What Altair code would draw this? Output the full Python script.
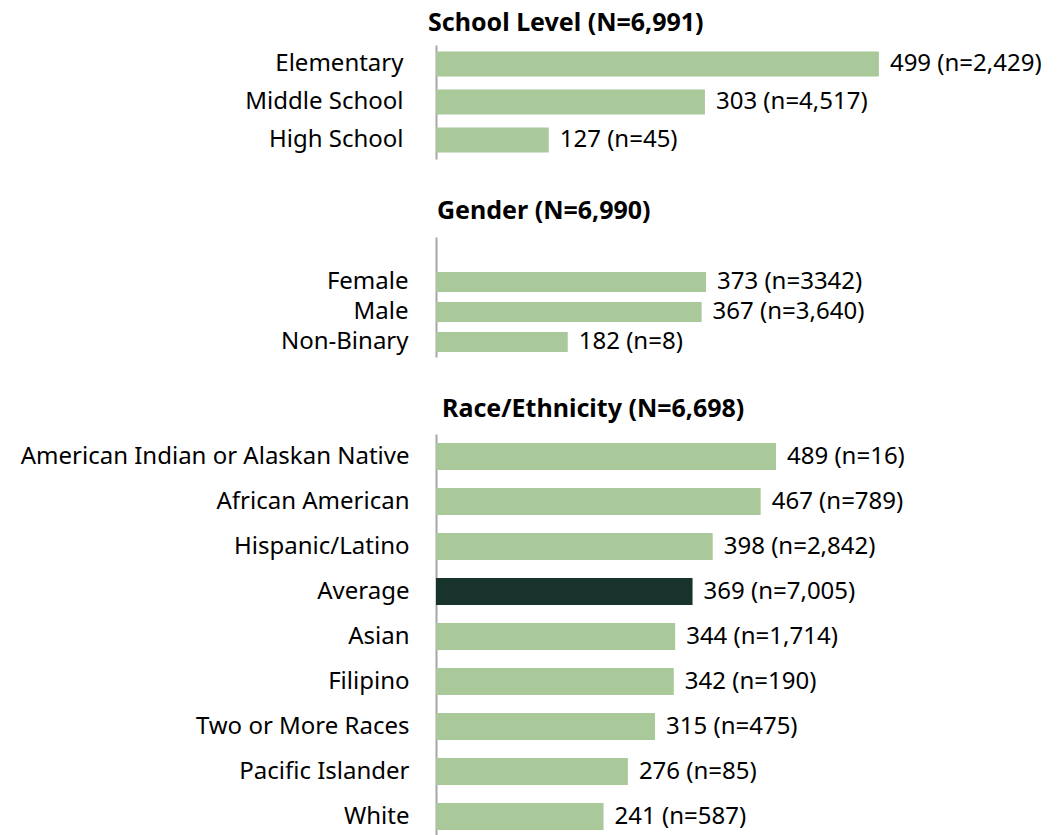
import altair as alt
import pandas as pd

school_cats = ["Elementary", "Middle School", "High School"]
school_vals = [499, 303, 127]
school_n = ["2,429", "4,517", "45"]

gender_cats = ["Female", "Male", "Non-Binary"]
gender_vals = [373, 367, 182]
gender_n = ["3342", "3,640", "8"]

race_cats = ["American Indian or Alaskan Native", "African American", "Hispanic/Latino",
             "Average", "Asian", "Filipino", "Two or More Races", "Pacific Islander", "White"]
race_vals = [489, 467, 398, 369, 344, 342, 315, 276, 241]
race_n = ["16", "789", "2,842", "7,005", "1,714", "190", "475", "85", "587"]

FONT = "Noto Sans"
LIGHT = "#a9c99a"
DARK = "#17332b"
EXTENT = 423
FS = 24


def panel(title, cats, vals, ns, domain, xmax, height, pad, label_pad, title_dx, title_off):
    df = pd.DataFrame({"cat": cats, "val": vals, "n": ns})
    df["label"] = df["val"].astype(str) + " (n=" + df["n"] + ")"
    y = alt.Y(
        "cat:N",
        sort=domain,
        scale=alt.Scale(domain=domain, paddingInner=pad, paddingOuter=pad / 2),
        axis=alt.Axis(
            title=None, ticks=False, grid=False, domainColor="#a6a6a6", domainWidth=2,
            labelFont=FONT, labelFontSize=FS, labelColor="#000000", labelPadding=label_pad,
            labelLimit=600, minExtent=EXTENT, maxExtent=EXTENT,
        ),
    )
    x = alt.X("val:Q", scale=alt.Scale(domain=[0, xmax]), axis=None)
    base = alt.Chart(df).encode(y=y, x=x)
    bars = base.mark_bar().encode(
        color=alt.condition(alt.datum.cat == "Average", alt.value(DARK), alt.value(LIGHT))
    )
    text = base.mark_text(align="left", baseline="middle", dx=11, font=FONT, fontSize=FS,
                          color="#000000").encode(text="label:N")
    return alt.layer(bars, text).properties(
        width=600,
        height=height,
        title=alt.TitleParams(title, anchor="start", frame="group", dx=title_dx, font=FONT,
                              fontSize=25, fontWeight="bold", color="#000000",
                              offset=title_off),
    )


p1 = panel("School Level (N=6,991)", school_cats, school_vals, school_n,
           school_cats, 676, 114, 0.34, 33, -8, 9)
p2 = panel("Gender (N=6,990)", gender_cats, gender_vals, gender_n,
           [" "] + gender_cats, 829, 120, 0.33, 28, 1, 13)
p3 = panel("Race/Ethnicity (N=6,698)", race_cats, race_vals, race_n,
           race_cats, 863, 405, 0.4, 27, 6, 12)

chart = (
    alt.vconcat(p1, p2, p3, spacing=40)
    .configure_view(stroke=None)
    .properties(padding={"left": 5, "top": 3, "right": 5, "bottom": 5})
)

chart.save("out.html", embed_options={"renderer": "svg", "actions": False})
